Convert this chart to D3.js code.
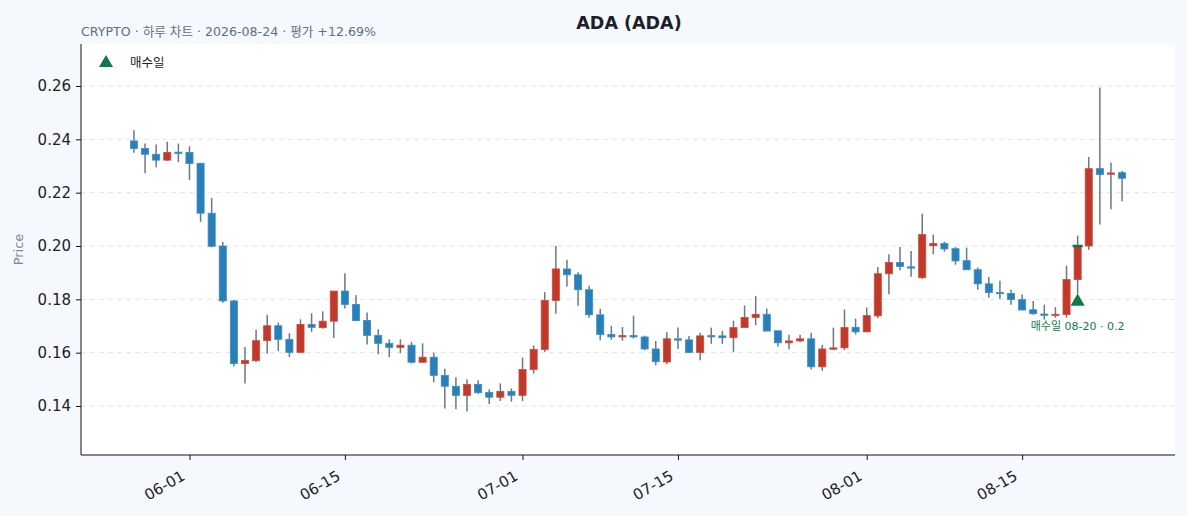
<!DOCTYPE html>
<html>
<head>
<meta charset="utf-8">
<script src="https://cdn.jsdelivr.net/npm/d3@7"></script>
<style>
  html, body { margin: 0; padding: 0; background: #f5f8fc; }
  body { font-family: "DejaVu Sans", "Noto Sans CJK KR", sans-serif; }
</style>
</head>
<body>
<div id="chart"></div>
<script>
// daily candles, 2026-05-27 .. 2026-08-24
const dates = [
  '05-27','05-28','05-29','05-30','05-31',
  '06-01','06-02','06-03','06-04','06-05','06-06','06-07','06-08','06-09','06-10',
  '06-11','06-12','06-13','06-14','06-15','06-16','06-17','06-18','06-19','06-20',
  '06-21','06-22','06-23','06-24','06-25','06-26','06-27','06-28','06-29','06-30',
  '07-01','07-02','07-03','07-04','07-05','07-06','07-07','07-08','07-09','07-10',
  '07-11','07-12','07-13','07-14','07-15','07-16','07-17','07-18','07-19','07-20',
  '07-21','07-22','07-23','07-24','07-25','07-26','07-27','07-28','07-29','07-30','07-31',
  '08-01','08-02','08-03','08-04','08-05','08-06','08-07','08-08','08-09','08-10',
  '08-11','08-12','08-13','08-14','08-15','08-16','08-17','08-18','08-19','08-20',
  '08-21','08-22','08-23','08-24'
];
const opens = [
  .2394,.2366,.2344,.2322,.2352,.2351,.2310,.2123,.2000,.1794,
  .1559,.1570,.1645,.1701,.1650,.1601,.1706,.1694,.1718,.1831,
  .1781,.1721,.1665,.1635,.1620,.1628,.1564,.1583,.1515,.1474,
  .1440,.1481,.1451,.1433,.1455,.1440,.1537,.1612,.1796,.1914,
  .1892,.1836,.1742,.1668,.1659,.1664,.1659,.1614,.1565,.1652,
  .1648,.1601,.1664,.1663,.1656,.1694,.1732,.1744,.1682,.1637,
  .1644,.1652,.1547,.1614,.1618,.1695,.1678,.1738,.1896,.1938,
  .1922,.1881,.2001,.2009,.1990,.1945,.1911,.1858,.1826,.1822,
  .1799,.1761,.1745,.1742,.1743,.1874,.2000,.2290,.2270,.2275
];
const highs = [
  .2434,.2384,.2381,.2391,.2384,.2374,.2312,.2180,.2015,.1798,
  .1621,.1686,.1742,.1713,.1673,.1725,.1748,.1755,.1831,.1898,
  .1815,.1751,.1688,.1650,.1650,.1640,.1635,.1600,.1540,.1508,
  .1500,.1497,.1462,.1485,.1466,.1582,.1627,.1827,.2000,.1948,
  .1902,.1851,.1765,.1701,.1696,.1739,.1664,.1644,.1677,.1694,
  .1663,.1675,.1694,.1682,.1720,.1777,.1813,.1766,.1682,.1667,
  .1667,.1675,.1629,.1694,.1762,.1728,.1769,.1921,.1969,.1996,
  .1981,.2121,.2043,.2016,.1996,.1994,.1919,.1884,.1870,.1836,
  .1818,.1794,.1780,.1771,.1926,.2039,.2334,.2594,.2313,.2281
];
const lows = [
  .2350,.2273,.2295,.2320,.2314,.2247,.2090,.1995,.1787,.1549,
  .1484,.1565,.1596,.1606,.1583,.1601,.1678,.1690,.1655,.1766,
  .1720,.1631,.1594,.1583,.1598,.1560,.1564,.1489,.1391,.1388,
  .1379,.1445,.1408,.1419,.1416,.1419,.1522,.1603,.1746,.1848,
  .1776,.1731,.1647,.1649,.1645,.1653,.1609,.1553,.1557,.1614,
  .1599,.1572,.1633,.1633,.1603,.1694,.1703,.1681,.1623,.1613,
  .1639,.1537,.1532,.1610,.1610,.1668,.1678,.1730,.1819,.1908,
  .1885,.1877,.1969,.1979,.1930,.1911,.1836,.1806,.1801,.1780,
  .1760,.1742,.1724,.1731,.1731,.1821,.1986,.2081,.2138,.2168
];
const closes = [
  .2366,.2344,.2322,.2351,.2351,.2309,.2123,.1999,.1794,.1559,
  .1571,.1645,.1701,.1650,.1601,.1706,.1695,.1718,.1831,.1781,
  .1720,.1665,.1635,.1620,.1628,.1564,.1583,.1515,.1474,.1440,
  .1481,.1450,.1433,.1455,.1440,.1537,.1612,.1796,.1914,.1892,
  .1836,.1742,.1668,.1659,.1664,.1659,.1614,.1566,.1652,.1647,
  .1601,.1663,.1662,.1656,.1694,.1732,.1744,.1681,.1637,.1644,
  .1652,.1547,.1614,.1618,.1694,.1678,.1739,.1896,.1938,.1923,
  .1920,.2043,.2009,.1989,.1944,.1911,.1858,.1825,.1824,.1799,
  .1760,.1746,.1743,.1744,.1874,.2000,.2290,.2268,.2274,.2254
];
const yTicks = [0.14, 0.16, 0.18, 0.20, 0.22, 0.24, 0.26];
const xTicks = ['06-01', '06-15', '07-01', '07-15', '08-01', '08-15'];
const buyDate = '08-20';
const buyPrice = 0.2;

const width = 1187, height = 516;
const plotLeft = 81, plotRight = 1175, plotTop = 44, plotBottom = 455;
const upColor = '#c0392b', downColor = '#2980b9', wickColor = '#6b7888';
const buyColor = '#0f7b4c';
const font = '"DejaVu Sans", "Noto Sans CJK KR", sans-serif';

const toDate = s => new Date(Date.UTC(2026, +s.slice(0, 2) - 1, +s.slice(3)));
const DAY = 86400000;
const pad = 4.77 * DAY;

const x = d3.scaleUtc()
  .domain([+toDate(dates[0]) - pad, +toDate(dates[dates.length - 1]) + pad])
  .range([plotLeft, plotRight]);
const y = d3.scaleLinear()
  .domain([0.12163, 0.27575])
  .range([plotBottom, plotTop]);

const candles = dates.map((d, i) => ({ date: toDate(d), o: opens[i], h: highs[i], l: lows[i], c: closes[i] }));

const svg = d3.select('#chart').append('svg')
  .attr('width', width).attr('height', height)
  .attr('font-family', font)
  .style('display', 'block');

svg.append('rect')
  .attr('x', plotLeft).attr('y', plotTop)
  .attr('width', plotRight - plotLeft).attr('height', plotBottom - plotTop)
  .attr('fill', '#fff');

// grid
svg.append('g').selectAll('line')
  .data(yTicks).enter().append('line')
  .attr('x1', plotLeft).attr('x2', plotRight)
  .attr('y1', d => y(d)).attr('y2', d => y(d))
  .attr('stroke', '#e5e5e5').attr('stroke-dasharray', '5,4').attr('stroke-width', 1);

// axes
const yAxis = svg.append('g')
  .attr('transform', `translate(${plotLeft},0)`)
  .call(d3.axisLeft(y).tickValues(yTicks).tickFormat(d3.format('.2f')).tickSize(5).tickPadding(5));
yAxis.select('.domain').attr('stroke', '#111').attr('d', `M0,${plotTop}V${plotBottom}`);
yAxis.selectAll('.tick line').attr('stroke', '#111');
yAxis.selectAll('text').attr('font-size', 15).attr('fill', '#222').attr('font-family', font);

const xAxis = svg.append('g')
  .attr('transform', `translate(0,${plotBottom})`)
  .call(d3.axisBottom(x).tickValues(xTicks.map(toDate)).tickFormat(d3.utcFormat('%m-%d')).tickSize(5));
xAxis.select('.domain').attr('stroke', '#111').attr('d', `M${plotLeft},0H${plotRight}`);
xAxis.selectAll('.tick line').attr('stroke', '#111');
xAxis.selectAll('text')
  .attr('font-size', 15).attr('fill', '#222').attr('font-family', font)
  .attr('text-anchor', 'end')
  .attr('y', 0).attr('dy', 0)
  .attr('transform', 'translate(-4,24) rotate(-30)');

// candles
const bodyW = x(+toDate(dates[0]) + 0.64 * DAY) - x(toDate(dates[0]));
const g = svg.append('g');
g.selectAll('line.wick')
  .data(candles).enter().append('line')
  .attr('class', 'wick')
  .attr('x1', d => x(d.date)).attr('x2', d => x(d.date))
  .attr('y1', d => y(d.h)).attr('y2', d => y(d.l))
  .attr('stroke', wickColor).attr('stroke-width', 1.5);
g.selectAll('rect.body')
  .data(candles).enter().append('rect')
  .attr('class', 'body')
  .attr('x', d => x(d.date) - bodyW / 2)
  .attr('width', bodyW)
  .attr('y', d => y(Math.max(d.o, d.c)))
  .attr('height', d => Math.max(1.3, Math.abs(y(d.o) - y(d.c))))
  .attr('fill', d => d.c >= d.o ? upColor : downColor)
  .attr('stroke', d => d.c >= d.o ? '#cf4a3d' : '#3a8fc6')
  .attr('stroke-width', 0.8);

// buy marker
const buy = candles[dates.indexOf(buyDate)];
const bx = x(buy.date);
svg.append('line')
  .attr('x1', bx - bodyW / 2 - 1.5).attr('x2', bx + bodyW / 2 + 1.5)
  .attr('y1', y(buyPrice)).attr('y2', y(buyPrice))
  .attr('stroke', buyColor).attr('stroke-width', 2.5);
svg.append('path')
  .attr('d', d3.symbol(d3.symbolTriangle, 88)())
  .attr('transform', `translate(${bx},${y(buy.l) + 8})`)
  .attr('fill', buyColor);
svg.append('text')
  .attr('x', bx).attr('y', y(buy.l) + 36)
  .attr('text-anchor', 'middle')
  .attr('font-size', 11).attr('fill', buyColor)
  .text(`매수일 ${buyDate} · ${buyPrice}`);

// legend
svg.append('path')
  .attr('d', d3.symbol(d3.symbolTriangle, 85)())
  .attr('transform', 'translate(106,63)')
  .attr('fill', buyColor);
svg.append('text')
  .attr('x', 130).attr('y', 67)
  .attr('font-size', 12.5).attr('fill', '#222')
  .text('매수일');

// titles
svg.append('text')
  .attr('x', 629).attr('y', 29)
  .attr('text-anchor', 'middle')
  .attr('font-size', 17.5).attr('font-weight', 'bold').attr('fill', '#1b1f2a')
  .text('ADA (ADA)');
svg.append('text')
  .attr('x', 81).attr('y', 36)
  .attr('font-size', 12.6).attr('fill', '#5f6f86')
  .text('CRYPTO · 하루 차트 · 2026-08-24 · 평가 +12.69%');
svg.append('text')
  .attr('transform', `translate(23,${(plotTop + plotBottom) / 2}) rotate(-90)`)
  .attr('text-anchor', 'middle')
  .attr('font-size', 13).attr('fill', '#7a8899')
  .text('Price');
</script>
</body>
</html>
